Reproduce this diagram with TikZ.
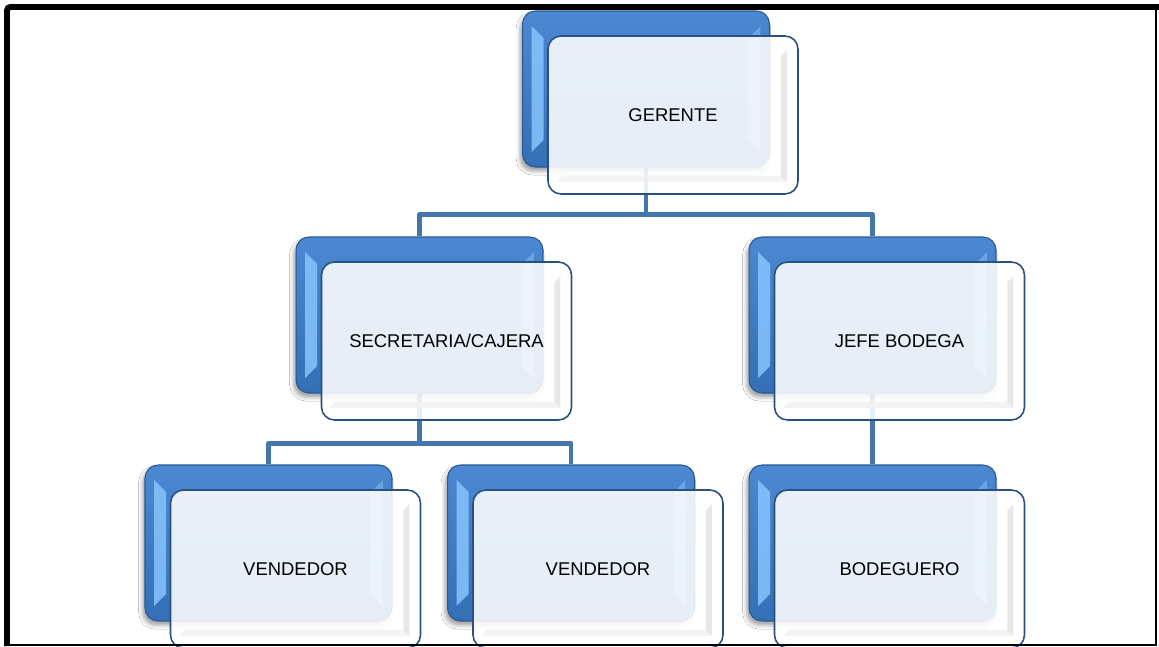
\documentclass[tikz,border=0pt]{standalone}
\usepackage{fontspec}
\setmainfont{Liberation Sans}
\usetikzlibrary{positioning, calc, backgrounds, shadows.blur}
\definecolor{azulcargo}{RGB}{60,126,206}
\definecolor{azuloscuro}{RGB}{40,88,150}
\definecolor{azulbrillo}{RGB}{135,195,252}
\definecolor{azullinea}{RGB}{69,117,173}
\definecolor{bordefrente}{RGB}{40,80,128}

\tikzset{
  atras/.style={rectangle, rounded corners=0.26cm, minimum width=4.94cm, minimum height=3.12cm, inner sep=0pt,
    top color=azulcargo!92!white, bottom color=azulcargo!88!black, draw=azuloscuro, line width=0.6pt,
    blur shadow={shadow xshift=-1.5pt, shadow yshift=-2.5pt, shadow opacity=35},
    path picture={
      \fill[azulbrillo, opacity=0.85, sharp corners] ([shift={(9,15)}]path picture bounding box.north west) -- ++(12,12)
        -- ([shift={(21,-27)}]path picture bounding box.south west) -- ++(-12,12) -- cycle;
      \fill[azulbrillo, opacity=0.5, sharp corners] ([shift={(-9,15)}]path picture bounding box.north east) -- ++(-12,12)
        -- ([shift={(-21,-27)}]path picture bounding box.south east) -- ++(12,12) -- cycle;
    }},
  frente/.style={rectangle, rounded corners=0.26cm, minimum width=5cm, minimum height=3.16cm, inner sep=0pt,
    fill=white, fill opacity=0.88, text opacity=1, draw=bordefrente, draw opacity=1, line width=0.9pt,
    font=\fontsize{10.5}{12}\selectfont,
    path picture={
      \fill[gray!22, fill opacity=0.8, sharp corners] ([shift={(-17,20)}]path picture bounding box.north east)
        -- ([shift={(-11,14)}]path picture bounding box.north east)
        -- ([shift={(-11,-12)}]path picture bounding box.south east)
        -- ([shift={(-17,-18)}]path picture bounding box.south east) -- cycle;
      \fill[gray!12, fill opacity=0.8, sharp corners] ([shift={(14,-18)}]path picture bounding box.south west)
        -- ([shift={(-17,-18)}]path picture bounding box.south east)
        -- ([shift={(-11,-12)}]path picture bounding box.south east)
        -- ([shift={(8,-12)}]path picture bounding box.south west) -- cycle;
    }},
  linea/.style={draw=azullinea, line width=2.8pt, line join=round}
}

\begin{document}
\begin{tikzpicture}[x=0.02cm, y=-0.02cm]
  \useasboundingbox (0,0) rectangle (1159,646);
  \clip (0,0) rectangle (1159,646);

  % cargos
  \foreach \n/\x/\y/\t in {gerente/646/89/GERENTE, secretaria/419.5/315/{SECRETARIA/CAJERA},
      jefe/872.5/315/JEFE BODEGA, vendedor1/268.5/543/VENDEDOR, vendedor2/571/543/VENDEDOR,
      bodeguero/872.5/543/BODEGUERO} {
    \node[atras] (\n-atras) at (\x,\y) {};
    \node[frente] (\n) at ([shift={(27,26)}]\n-atras.center) {\t};
  }

  % lineas
  \begin{scope}[on background layer]
    \fill[white] (0,0) rectangle (1159,646);
    \coordinate (bus1) at ($(gerente-atras.south)+(0,47)$);
    \coordinate (bus2) at ($(secretaria-atras.south)+(0,50)$);
    \draw[linea] (gerente-atras.south) -- (bus1) -| (secretaria-atras.north);
    \draw[linea] (bus1) -| (jefe-atras.north);
    \draw[linea] (secretaria-atras.south) -- (bus2) -| (vendedor1-atras.north);
    \draw[linea] (bus2) -| (vendedor2-atras.north);
    \draw[linea] (jefe-atras.south) -- (bodeguero-atras.north);
  \end{scope}

  % marco
  \draw[line width=3.4pt, rounded corners=2pt] (7,646) -- (7,7) -- (1159,7);
  \draw[line width=1pt] (1156,7) -- (1156,646);
  \draw[line width=0.6pt] (7,645) -- (1156,645);
\end{tikzpicture}
\end{document}
